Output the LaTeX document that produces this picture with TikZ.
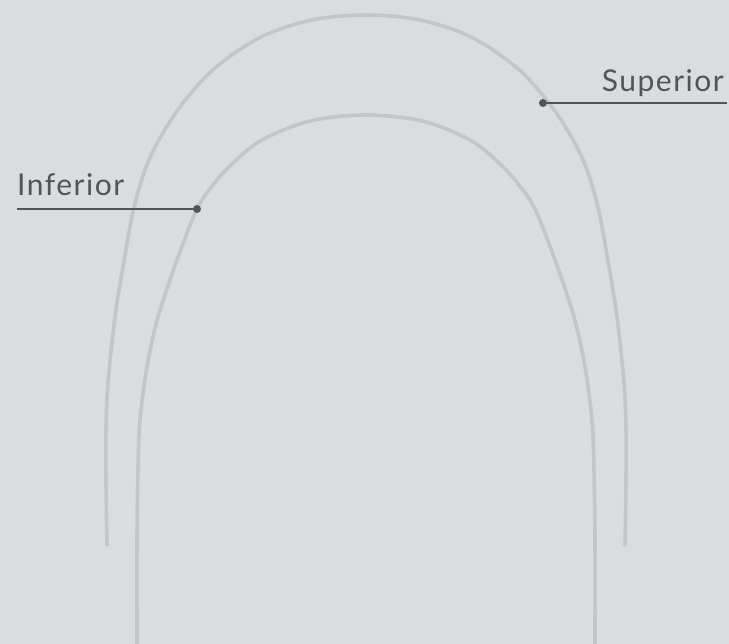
\documentclass[tikz,border=0pt]{standalone}
\usepackage{fontspec}
\setmainfont{Lato}[LetterSpace=5]
\usepackage{tikz}
\usetikzlibrary{positioning}
\definecolor{ArchBg}{RGB}{217,221,222}
\definecolor{ArchWire}{RGB}{193,198,200}
\definecolor{ArchInk}{RGB}{82,85,87}

\begin{document}
\begin{tikzpicture}[x=1pt,y=-1pt,font=\fontsize{30}{36}\selectfont,
  wire/.style={ArchWire,line width=3.6pt,line cap=round},
  lead/.style={ArchInk,line width=1.3pt},
  tag/.style={ArchInk,inner sep=0pt}]
\fill[ArchBg] (0,0) rectangle (729,644);
\useasboundingbox (0,0) rectangle (729,644);
% outer arch
\draw[wire] plot[smooth,tension=0.55] coordinates {(107,545) (106,480) (106,430) (108,383) (115,317) (123,267) (133,212) (145,170) (160,138) (183,103) (215,68) (261,37) (312,20) (366,15) (420,20) (471,37) (517,68) (549,103) (572,138) (587,170) (599,212) (609,267) (617,317) (624,383) (626,430) (626,480) (625,545)};
% inner arch
\draw[wire] plot[smooth,tension=0.55] coordinates {(137,644) (137,540) (138,470) (140,420) (147,367) (158,317) (177,260) (197,209) (213,185) (232,164) (262,140) (310,121) (366,115) (422,121) (470,140) (500,164) (519,185) (535,209) (555,260) (574,317) (585,367) (592,420) (594,470) (595,540) (595,644)};
\coordinate (sup) at (543,103);
\coordinate (supend) at (727,103);
\coordinate (inf) at (197,209);
\coordinate (infend) at (17,209);
\draw[lead] (sup) -- (supend);
\draw[lead] (inf) -- (infend);
\fill[ArchInk] (sup) circle (4pt);
\fill[ArchInk] (inf) circle (4pt);
\node[tag,anchor=base east] (suplabel) at (724,92) {Superior};
\node[tag,anchor=base west] (inflabel) at (17,196) {Inferior};
\end{tikzpicture}
\end{document}
